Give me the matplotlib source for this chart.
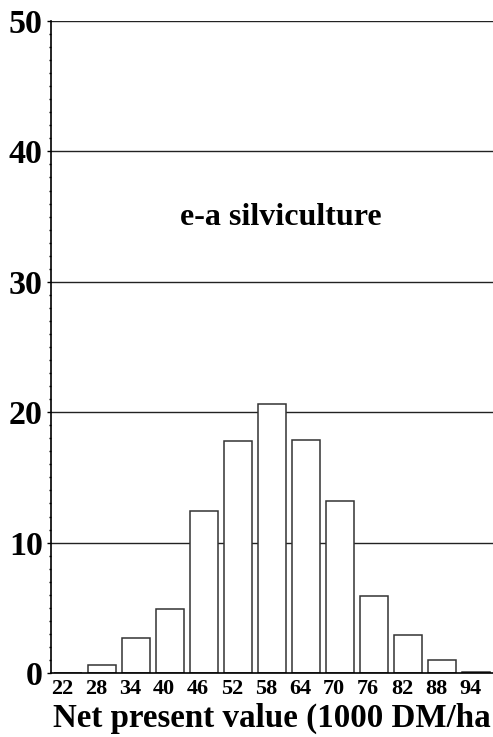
import numpy as np
import matplotlib.pyplot as plt
from matplotlib.ticker import MultipleLocator
import matplotlib.transforms as mtransforms

# --- data ---
classes = ['22', '28', '34', '40', '46', '52', '58', '64', '70', '76', '82', '88', '94']
percent = [0.0, 0.6, 2.7, 4.9, 12.4, 17.8, 20.6, 17.9, 13.2, 5.9, 2.9, 1.0, 0.1]
y_ticks = [0, 10, 20, 30, 40, 50]

plt.rcParams['font.family'] = ['Liberation Serif', 'DejaVu Serif']
plt.rcParams['font.weight'] = 'bold'

fig = plt.figure(figsize=(4.93, 7.37), dpi=100)
ax = fig.add_axes([51 / 493, 64 / 737, 442 / 493, 652 / 737])

x = np.arange(len(classes))

# horizontal grid lines behind the bars
for yv in y_ticks[1:]:
    ax.axhline(yv, color='#222222', linewidth=1.0, zorder=1)

ax.bar(x, percent, width=0.8, color='white', edgecolor='#333333',
       linewidth=1.1, zorder=2)

ax.set_xlim(-0.5, 12.5)
ax.set_ylim(0, 50)

ax.set_yticks(y_ticks)
ax.yaxis.set_minor_locator(MultipleLocator(1))
ax.tick_params(axis='y', which='major', length=3, width=1, labelsize=24.5, pad=3)
ax.tick_params(axis='y', which='minor', length=1.5, width=1)

ax.set_xticks(x)
ax.set_xticklabels(classes)
ax.tick_params(axis='x', length=0, labelsize=16, pad=4)
# labels sit a little left of the bar centres in the original
shift = mtransforms.ScaledTranslation(-6 / 100, 0, fig.dpi_scale_trans)
for lbl in ax.get_xticklabels():
    lbl.set_transform(lbl.get_transform() + shift)

for side in ['top', 'right']:
    ax.spines[side].set_visible(False)
ax.spines['left'].set_linewidth(1.2)
ax.spines['bottom'].set_linewidth(1.2)

ax.text(6.26, 34.9, 'e-a silviculture', ha='center', va='center',
        fontsize=23, fontweight='bold')

fig.text(53 / 493, 10 / 737, 'Net present value (1000 DM/ha', ha='left',
         va='baseline', fontsize=23.8, fontweight='bold')

fig.savefig('out.png', dpi=100)
